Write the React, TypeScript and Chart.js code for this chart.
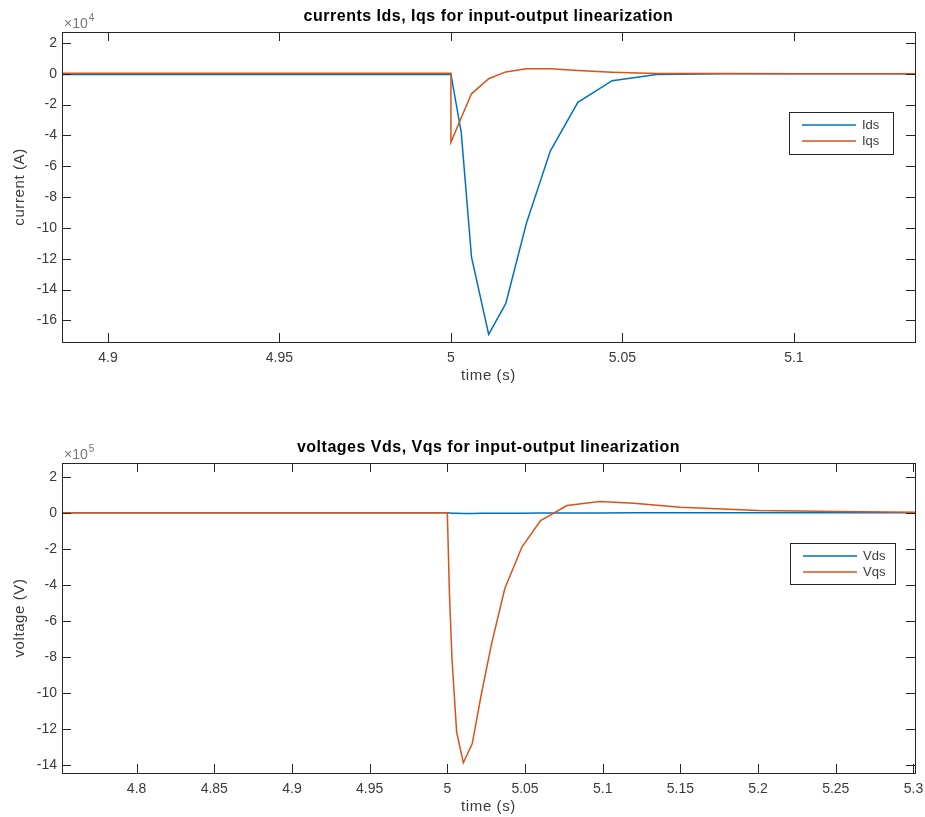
import React, { useEffect, useRef } from "react";
import { Chart, registerables } from "chart.js";

Chart.register(...registerables);

// ---------- Data ----------
const timeI = [4.75, 4.9, 5.0, 5.0, 5.003, 5.006, 5.011, 5.016, 5.022, 5.029, 5.037, 5.047, 5.06, 5.08, 5.1, 5.15, 5.2, 5.3];
const ids = [-400, -400, -400, -400, -38000, -119000, -169000, -149000, -97000, -50000, -18500, -4500, -500, 0, 0, 0, 0, 0];
const iqs = [300, 300, 300, -44500, -28500, -13000, -3200, 1200, 3200, 3200, 2100, 1000, 200, 100, 0, 0, 0, 0];

const timeV = [4.75, 5.0, 5.0013, 5.003, 5.006, 5.0103, 5.016, 5.022, 5.0285, 5.037, 5.048, 5.06, 5.077, 5.098, 5.12, 5.15, 5.2, 5.25, 5.31];
const vds = [0, 0, -1000, -2000, -3000, -4000, -4000, -3000, -3000, -2000, -2000, -1000, -1000, -1000, 0, 0, 0, 0, 0];
const vqs = [0, 0, -430000, -810000, -1215000, -1385000, -1280000, -1000000, -725000, -420000, -190000, -43000, 40000, 63000, 53000, 31000, 13000, 7000, 3000];

const xTicksTop = [4.9, 4.95, 5.0, 5.05, 5.1];
const yTicksTop = [20000, 0, -20000, -40000, -60000, -80000, -100000, -120000, -140000, -160000];
const xTicksBottom = [4.8, 4.85, 4.9, 4.95, 5.0, 5.05, 5.1, 5.15, 5.2, 5.25, 5.3];
const yTicksBottom = [200000, 0, -200000, -400000, -600000, -800000, -1000000, -1200000, -1400000];

const BLUE = "#0072BD";
const ORANGE = "#D95319";
const FONT = "'Liberation Sans', Arial, Helvetica, sans-serif";
const AXIS = "#262626";
const TEXT = "#3a3a3a";

type PanelCfg = {
  title: string;
  xLabel: string;
  yLabel: string;
  exponent: string;
  scaleDiv: number;
  xMin: number;
  xMax: number;
  yMin: number;
  yMax: number;
  xTicks: number[];
  yTicks: number[];
  time: number[];
  series: { label: string; data: number[]; color: string }[];
  height: number;
  padTop: number;
  legend: { x: number; y: number; w: number; h: number };
};

const fmt = (v: number) => String(Number(v.toFixed(4)));

function makePlugin(cfg: PanelCfg) {
  return {
    id: "matlabDecor",
    afterDraw(chart: any) {
      const ctx = chart.ctx;
      const a = chart.chartArea;
      const xs = chart.scales.x;
      const ys = chart.scales.y;
      const L = 9;
      ctx.save();
      // frame
      ctx.strokeStyle = AXIS;
      ctx.lineWidth = 1;
      ctx.strokeRect(Math.round(a.left) + 0.5, Math.round(a.top) + 0.5, Math.round(a.right - a.left), Math.round(a.bottom - a.top));
      // inner ticks
      ctx.beginPath();
      cfg.xTicks.forEach((t) => {
        const px = Math.round(xs.getPixelForValue(t)) + 0.5;
        ctx.moveTo(px, a.bottom);
        ctx.lineTo(px, a.bottom - L);
        ctx.moveTo(px, a.top);
        ctx.lineTo(px, a.top + L);
      });
      cfg.yTicks.forEach((t) => {
        const py = Math.round(ys.getPixelForValue(t)) + 0.5;
        ctx.moveTo(a.left, py);
        ctx.lineTo(a.left + L, py);
        ctx.moveTo(a.right, py);
        ctx.lineTo(a.right - L, py);
      });
      ctx.stroke();

      const cx = (a.left + a.right) / 2;
      // title
      ctx.fillStyle = "#000";
      ctx.font = `bold 16px ${FONT}`;
      (ctx as any).letterSpacing = "0.5px";
      ctx.textAlign = "center";
      ctx.textBaseline = "middle";
      ctx.fillText(cfg.title, cx, a.top - 15);
      // x label
      ctx.fillStyle = TEXT;
      ctx.font = `15px ${FONT}`;
      (ctx as any).letterSpacing = "0.6px";
      ctx.textBaseline = "middle";
      ctx.fillText(cfg.xLabel, cx, a.bottom + 34);
      // y label
      ctx.save();
      ctx.translate(20, (a.top + a.bottom) / 2);
      ctx.rotate(-Math.PI / 2);
      ctx.fillText(cfg.yLabel, 0, 0);
      ctx.restore();
      (ctx as any).letterSpacing = "0px";
      // exponent
      ctx.fillStyle = "#777";
      ctx.textAlign = "left";
      ctx.font = `14px ${FONT}`;
      ctx.fillText("\u00d710", a.left + 2, a.top - 8);
      const w = ctx.measureText("\u00d710").width;
      ctx.font = `10px ${FONT}`;
      ctx.fillText(cfg.exponent, a.left + 2 + w + 1, a.top - 14);

      // legend
      const lg = cfg.legend;
      ctx.fillStyle = "#fff";
      ctx.fillRect(lg.x, lg.y, lg.w, lg.h);
      ctx.strokeStyle = AXIS;
      ctx.lineWidth = 1;
      ctx.strokeRect(lg.x + 0.5, lg.y + 0.5, lg.w, lg.h);
      cfg.series.forEach((s, i) => {
        const y = lg.y + 13 + i * 16;
        ctx.strokeStyle = s.color;
        ctx.lineWidth = 1.5;
        ctx.beginPath();
        ctx.moveTo(lg.x + 13, y);
        ctx.lineTo(lg.x + 67, y);
        ctx.stroke();
        ctx.fillStyle = TEXT;
        ctx.font = `13px ${FONT}`;
        ctx.textAlign = "left";
        ctx.textBaseline = "middle";
        ctx.fillText(s.label, lg.x + 73, y);
      });
      ctx.restore();
    },
  };
}

function Panel({ cfg }: { cfg: PanelCfg }) {
  const ref = useRef<HTMLCanvasElement>(null);
  useEffect(() => {
    if (!ref.current) return;
    const chart = new Chart(ref.current, {
      type: "line",
      data: {
        datasets: cfg.series.map((s, i) => ({
          label: s.label,
          data: cfg.time.map((t, k) => ({ x: t, y: s.data[k] })),
          borderColor: s.color,
          backgroundColor: s.color,
          borderWidth: 1.5,
          pointRadius: 0,
          tension: 0,
          fill: false,
          order: cfg.series.length - 1 - i,
        })),
      },
      options: {
        animation: false,
        responsive: false,
        maintainAspectRatio: false,
        layout: { padding: { left: 0, right: 10, top: cfg.padTop, bottom: cfg.height - cfg.padTop - 310 - 30 } },
        plugins: { legend: { display: false }, tooltip: { enabled: false }, title: { display: false } },
        scales: {
          x: {
            type: "linear",
            min: cfg.xMin,
            max: cfg.xMax,
            afterBuildTicks: (s: any) => {
              s.ticks = cfg.xTicks.map((v) => ({ value: v }));
            },
            afterFit: (s: any) => {
              s.height = 30;
              s.paddingLeft = 0;
              s.paddingRight = 0;
            },
            grid: { display: false, drawTicks: false },
            border: { display: false },
            ticks: {
              autoSkip: false,
              maxRotation: 0,
              padding: 8,
              color: TEXT,
              font: { family: FONT, size: 14 },
              callback: (v: any) => fmt(Number(v)),
            },
          },
          y: {
            type: "linear",
            min: cfg.yMin,
            max: cfg.yMax,
            afterBuildTicks: (s: any) => {
              s.ticks = cfg.yTicks.map((v) => ({ value: v }));
            },
            afterFit: (s: any) => {
              s.width = 62;
              s.paddingTop = 0;
              s.paddingBottom = 0;
            },
            grid: { display: false, drawTicks: false },
            border: { display: false },
            ticks: {
              autoSkip: false,
              padding: 5,
              color: TEXT,
              font: { family: FONT, size: 14 },
              callback: (v: any) => fmt(Number(v) / cfg.scaleDiv),
            },
          },
        },
      },
      plugins: [makePlugin(cfg)],
    } as any);
    return () => chart.destroy();
  }, [cfg]);
  return <canvas ref={ref} width={925} height={cfg.height} style={{ display: "block", width: 925, height: cfg.height }} />;
}

const topCfg: PanelCfg = {
  title: "currents Ids, Iqs for input-output linearization",
  xLabel: "time (s)",
  yLabel: "current (A)",
  exponent: "4",
  scaleDiv: 10000,
  xMin: 4.8866,
  xMax: 5.1353,
  yMin: -174000,
  yMax: 27100,
  xTicks: xTicksTop,
  yTicks: yTicksTop,
  time: timeI,
  series: [
    { label: "Ids", data: ids, color: BLUE },
    { label: "Iqs", data: iqs, color: ORANGE },
  ],
  height: 420,
  padTop: 32,
  legend: { x: 789, y: 112, w: 104, h: 42 },
};

const bottomCfg: PanelCfg = {
  title: "voltages Vds, Vqs for input-output linearization",
  xLabel: "time (s)",
  yLabel: "voltage (V)",
  exponent: "5",
  scaleDiv: 100000,
  xMin: 4.752,
  xMax: 5.301,
  yMin: -1442000,
  yMax: 276000,
  xTicks: xTicksBottom,
  yTicks: yTicksBottom,
  time: timeV,
  series: [
    { label: "Vds", data: vds, color: BLUE },
    { label: "Vqs", data: vqs, color: ORANGE },
  ],
  height: 397,
  padTop: 43,
  legend: { x: 790, y: 123, w: 105, h: 41 },
};

export default function App() {
  return (
    <div style={{ position: "absolute", left: 0, top: 0, width: 925, height: 817, background: "#fff" }}>
      <Panel cfg={topCfg} />
      <Panel cfg={bottomCfg} />
    </div>
  );
}
